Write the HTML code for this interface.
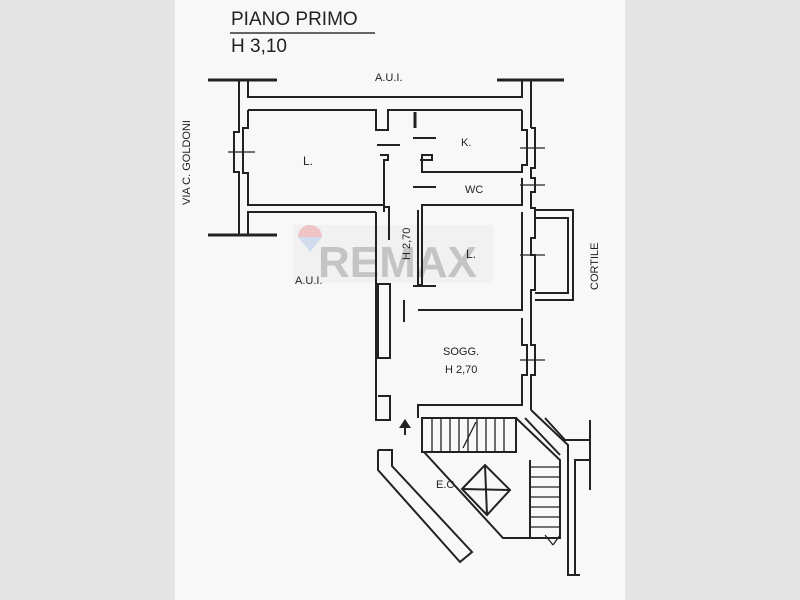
<!DOCTYPE html>
<html><head><style>
html,body{margin:0;padding:0;width:800px;height:600px;overflow:hidden;background:#e4e4e4}
svg{display:block}
text{font-family:"Liberation Sans",sans-serif;fill:#222}
</style></head><body>
<svg width="800" height="600" viewBox="0 0 800 600">
<rect x="0" y="0" width="800" height="600" fill="#e4e4e4"/>
<rect x="175" y="0" width="450" height="600" fill="#f8f8f8"/>
<!-- watermark (behind) -->
<rect x="293" y="225" width="200" height="58" fill="#f1f1f1"/>
<text x="318" y="277" font-size="44" font-weight="bold" style="fill:#c4c4c4">REMAX</text>
<path d="M298 237 a12 12 0 0 1 24 0 l-12 15z" fill="#d0dcee"/>
<path d="M298 237 a12 12 0 0 1 24 0z" fill="#eec4c4"/>
<text x="231" y="25" font-size="19">PIANO PRIMO</text>
<line x1="230" y1="33" x2="375" y2="33" stroke="#333" stroke-width="1.5"/>
<text x="231" y="52" font-size="19">H 3,10</text>
<text x="375" y="81" font-size="11">A.U.I.</text>
<text x="295" y="284" font-size="11">A.U.I.</text>
<text x="461" y="146" font-size="11">K.</text>
<text x="465" y="193" font-size="11">WC</text>
<text x="303" y="165" font-size="12">L.</text>
<text x="466" y="258" font-size="12">L.</text>
<text x="443" y="355" font-size="11">SOGG.</text>
<text x="445" y="373" font-size="11">H 2,70</text>
<text x="436" y="488" font-size="11">E.C.</text>
<text transform="translate(190,205) rotate(-90)" font-size="11">VIA C. GOLDONI</text>
<text transform="translate(598,290) rotate(-90)" font-size="11">CORTILE</text>
<text transform="translate(410,260) rotate(-90)" font-size="11">H 2,70</text>
<g fill="none" stroke="#222" stroke-width="2">
<line x1="208" y1="80" x2="277" y2="80" stroke-width="3"/>
<line x1="497" y1="80" x2="564" y2="80" stroke-width="3"/>
<line x1="208" y1="235" x2="277" y2="235" stroke-width="3"/>
<polyline points="239,80 239,132 234,132 234,172 239,172 239,235"/>
<polyline points="248,80 248,97 522,97 522,80"/>
<polyline points="248,235 248,212 376,212"/>
<polyline points="248,110 376,110 376,130 388,130 388,110 522,110"/>
<polyline points="248,110 248,128 243,128 243,173 248,173 248,205 384,205 384,212"/>
<line x1="531" y1="80" x2="531" y2="128"/>
<polyline points="522,110 522,130 527,130 527,165 522,165 522,172 422,172 422,155 432,155 432,160 420,160"/>
<polyline points="531,128 535,128 535,168 531,168 531,178 535,178 535,192 531,192 531,208 535,208 535,238 531,238 531,255 535,255 535,290 531,290 531,345 535,345 535,375 531,375 531,410"/>
<polyline points="522,178 522,205 422,205 422,285 418,285 418,210"/>
<polyline points="522,212 522,310 418,310"/>
<polyline points="522,318 522,345 527,345 527,375 522,375 522,405 418,405 418,418"/>
<polyline points="380,155 388,155 388,160 384,160 384,207 389,207 389,240"/>
<polyline points="376,212 376,420 390,420 390,396 378,396"/>
<rect x="378" y="284" width="12" height="74"/>
<line x1="377" y1="145" x2="400" y2="145"/>
<line x1="413" y1="138" x2="436" y2="138"/>
<line x1="413" y1="187" x2="436" y2="187"/>
<line x1="413" y1="286" x2="436" y2="286"/>
<line x1="415" y1="112" x2="415" y2="128" stroke-width="3"/>
<line x1="404" y1="300" x2="404" y2="322"/>
<polyline points="535,210 573,210 573,300 535,300"/>
<polyline points="535,218 568,218 568,293 535,293"/>
<rect x="422" y="418" width="94" height="34"/>
<g stroke-width="1.3">
<line x1="432" y1="418" x2="432" y2="452"/><line x1="441" y1="418" x2="441" y2="452"/><line x1="450" y1="418" x2="450" y2="452"/><line x1="459" y1="418" x2="459" y2="452"/><line x1="468" y1="418" x2="468" y2="452"/><line x1="477" y1="418" x2="477" y2="452"/><line x1="486" y1="418" x2="486" y2="452"/><line x1="495" y1="418" x2="495" y2="452"/><line x1="504" y1="418" x2="504" y2="452"/>
<line x1="463" y1="448" x2="476" y2="422"/>
<line x1="530" y1="467" x2="560" y2="467"/><line x1="530" y1="477" x2="560" y2="477"/><line x1="530" y1="487" x2="560" y2="487"/><line x1="530" y1="497" x2="560" y2="497"/><line x1="530" y1="507" x2="560" y2="507"/><line x1="530" y1="517" x2="560" y2="517"/><line x1="530" y1="527" x2="560" y2="527"/>
</g>
<polyline points="516,418 560,460 560,538 503,538 424,452"/>
<polyline points="530,460 530,538"/>
<polyline points="525,418 560,455"/>
<polyline points="531,410 568,445 568,575 580,575"/>
<polyline points="545,418 565,440 590,440 590,460 575,460 575,575"/>
<line x1="590" y1="420" x2="590" y2="490"/>
<polyline points="378,450 378,470 460,562 472,552 392,466 392,450 378,450"/>
<polygon points="462,489 485,465 510,490 487,515"/>
<line x1="462" y1="489" x2="510" y2="490"/><line x1="485" y1="465" x2="487" y2="515"/>
<line x1="405" y1="420" x2="405" y2="435"/>
</g>
<polygon points="399,428 411,428 405,419" fill="#222"/>
<g stroke="#222" stroke-width="1.3">
<line x1="228" y1="152" x2="255" y2="152"/><line x1="520" y1="148" x2="545" y2="148"/><line x1="520" y1="185" x2="545" y2="185"/><line x1="520" y1="255" x2="545" y2="255"/><line x1="520" y1="360" x2="545" y2="360"/>
<line x1="545" y1="535" x2="553" y2="545"/><line x1="553" y1="545" x2="560" y2="535"/>
</g>
</svg>
</body></html>
